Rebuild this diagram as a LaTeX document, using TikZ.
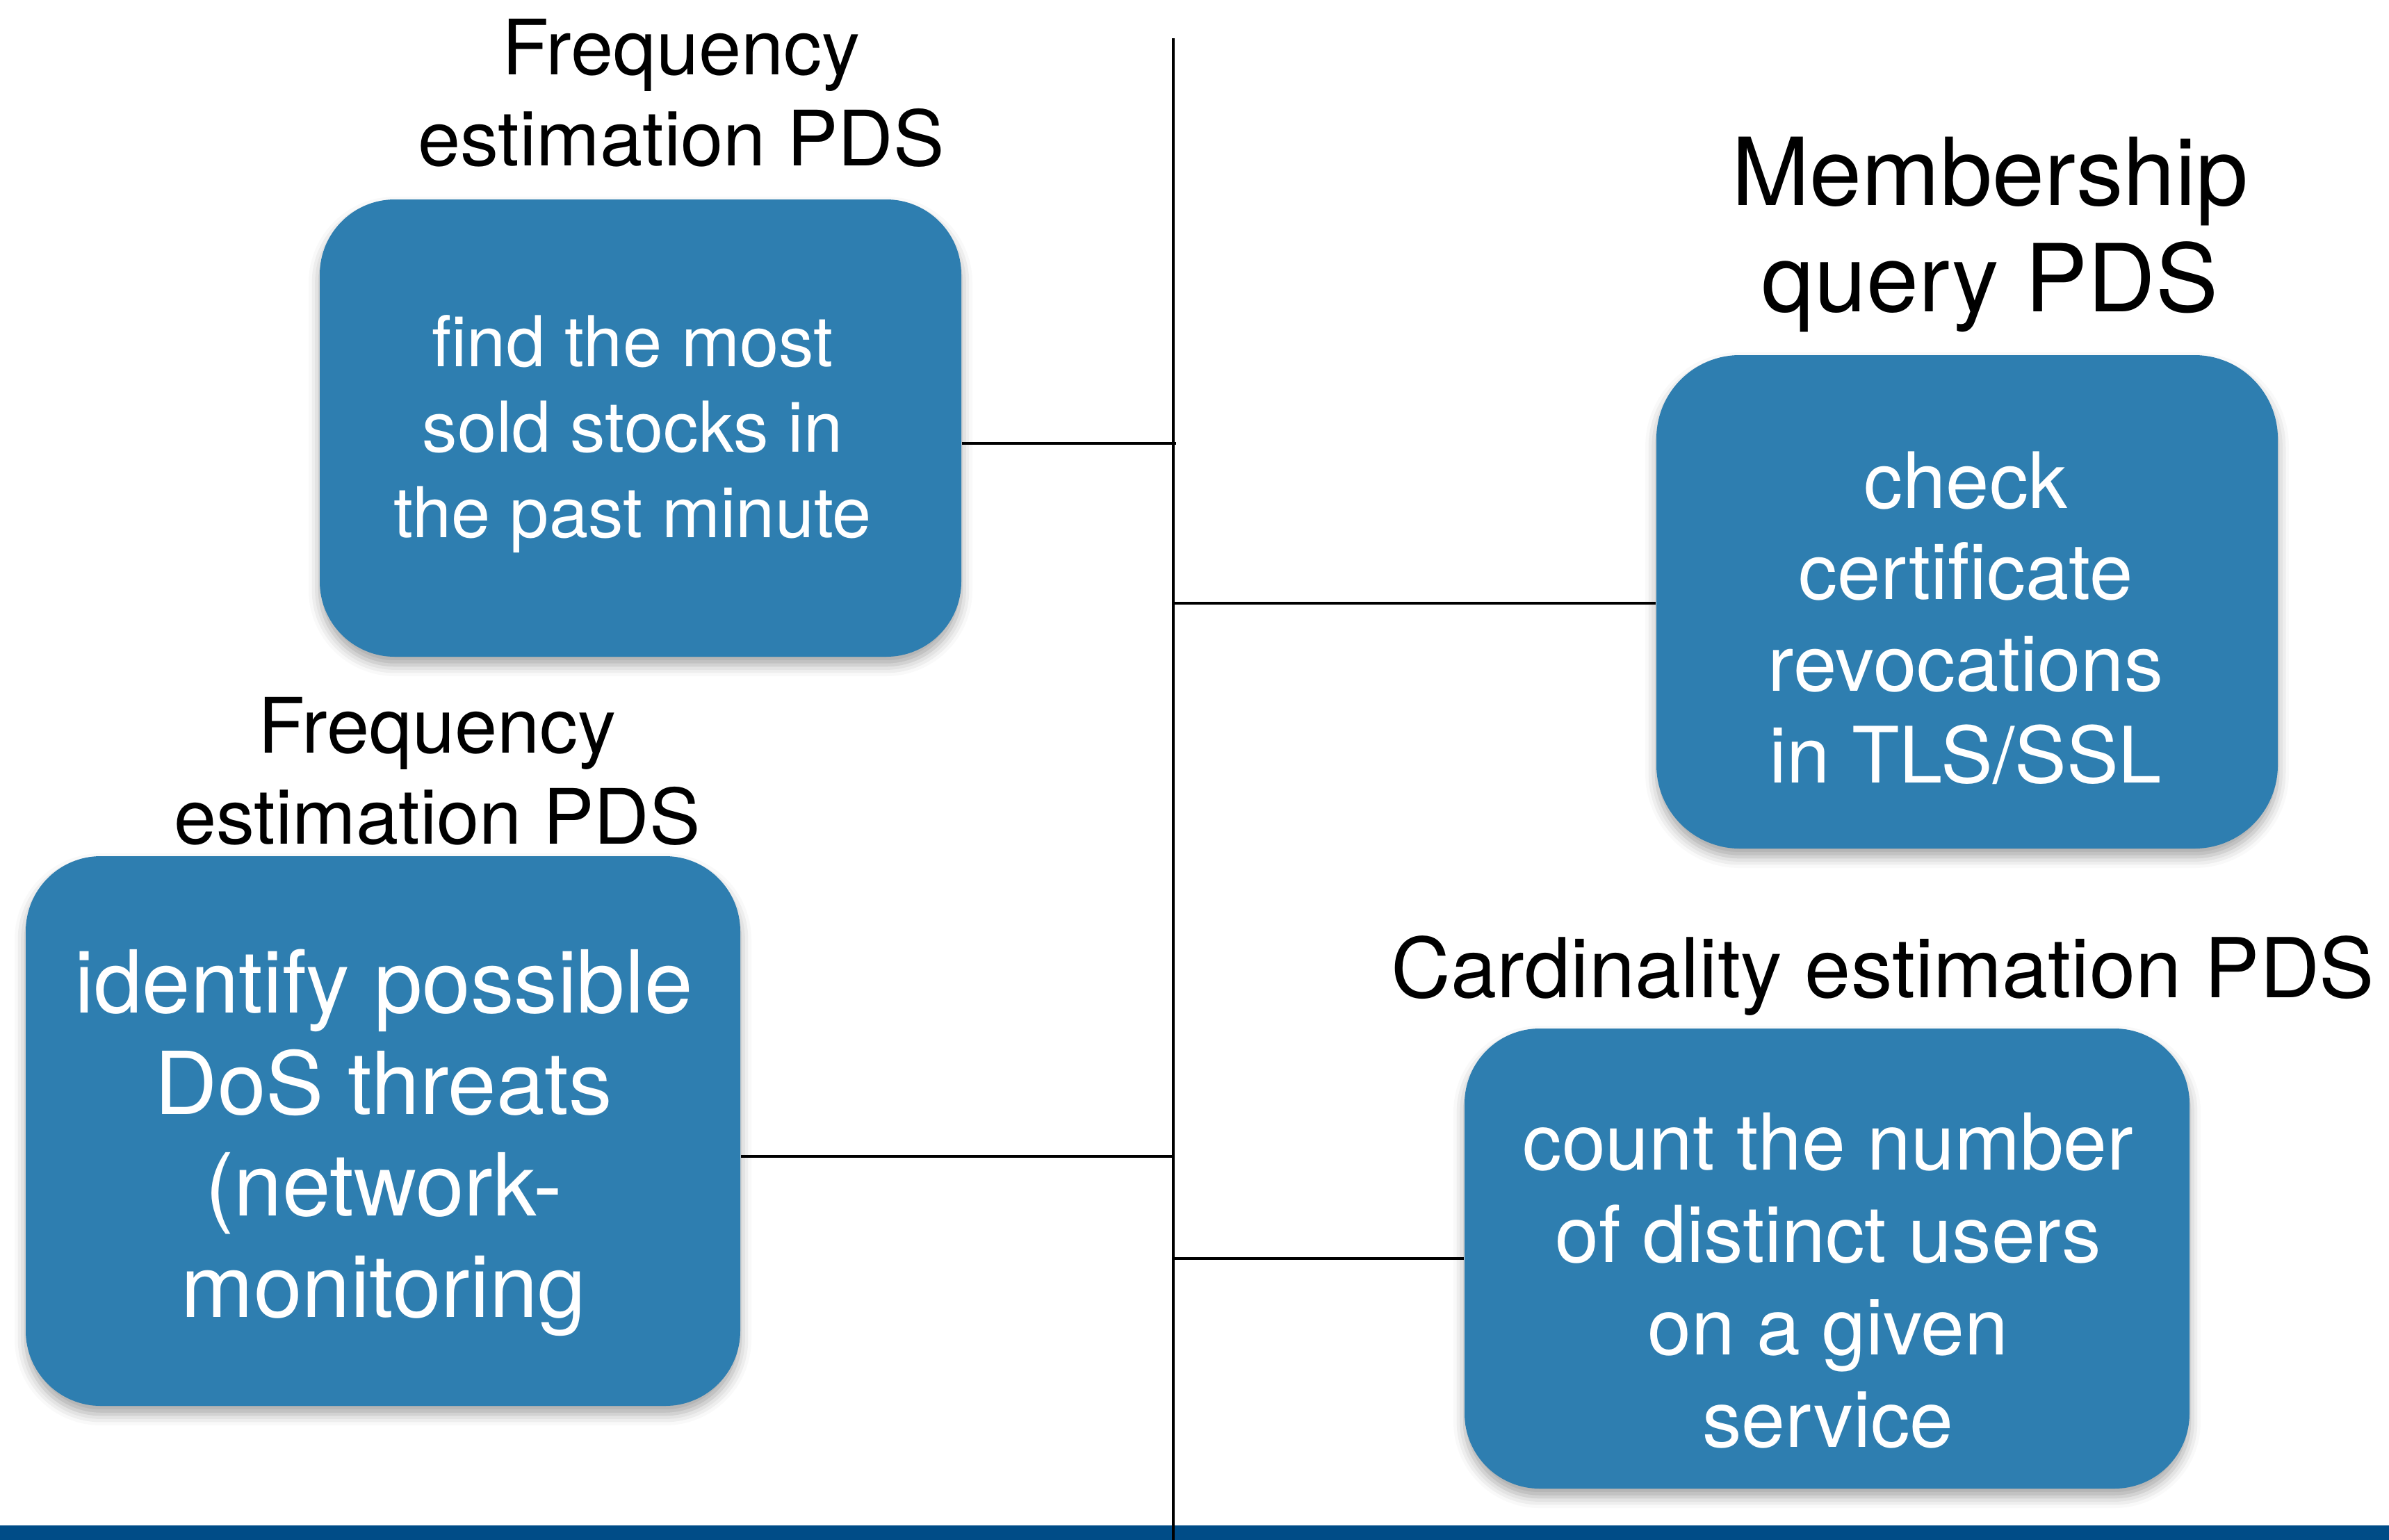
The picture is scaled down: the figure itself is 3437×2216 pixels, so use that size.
\documentclass[tikz,border=0pt]{standalone}
\usepackage{fontspec}
\setmainfont{TeX Gyre Heros}
\usetikzlibrary{shadows.blur}
\definecolor{boxblue}{HTML}{2E7EB0}
\definecolor{barblue}{HTML}{004C87}
\tikzset{
  usecase/.style={fill=boxblue, rounded corners=27pt, inner sep=0pt,
    blur shadow={shadow xshift=0pt, shadow yshift=-3pt, shadow blur radius=4pt, shadow opacity=35}},
  boxtext/.style={text=white, align=center, inner sep=0pt},
  heading/.style={text=black, align=center, inner sep=0pt},
  link/.style={draw=black, line width=1.2pt}
}
\begin{document}
\begin{tikzpicture}[x=0.25pt, y=-0.25pt]
\useasboundingbox (0,0) rectangle (3437,2216);
% footer bar
\fill[barblue] (0,2195) rectangle (3437,2216);
% central spine
\coordinate (top) at (1688,55);
\coordinate (bottom) at (1688,2216);
\draw[link] (top) -- (bottom);

% use case boxes
\node[usecase, minimum width=230.75pt, minimum height=164.5pt] (b1) at (921.5,616) {};
\node[usecase, minimum width=257pt, minimum height=197.75pt] (b2) at (551,1627.5) {};
\node[usecase, minimum width=223.5pt, minimum height=177.5pt, rounded corners=30pt] (b3) at (2830,866) {};
\node[usecase, minimum width=260.75pt, minimum height=165.5pt] (b4) at (2628.5,1811) {};

% box texts
\node[boxtext, font=\fontsize{25.25}{30.75}\selectfont] (t1) at (910,625)
  {find the most\\sold stocks in\\the past minute};
\node[boxtext, font=\fontsize{31.25}{36.5}\selectfont] (t2) at (552,1644)
  {identify possible\\DoS threats\\(network-\\monitoring};
\node[boxtext, font=\fontsize{28}{32.9}\selectfont] (t3) at (2828,889)
  {check\\certificate\\revocations\\in TLS/SSL};
\node[boxtext, font=\fontsize{28.25}{33.25}\selectfont] (t4) at (2630,1843)
  {count the number\\of distinct users\\on a given\\service};

% headings
\node[heading, font=\fontsize{27.5}{32.75}\selectfont] (h1) at (980,134)
  {Frequency\\estimation PDS};
\node[heading, font=\fontsize{27.5}{32.75}\selectfont] (h2) at (629,1110)
  {Frequency\\estimation PDS};
\node[heading, font=\fontsize{33.75}{38.25}\selectfont] (h3) at (2863,338)
  {Membership\\query PDS};
\node[heading, font=\fontsize{29.75}{35}\selectfont] (h4) at (2709,1404)
  {Cardinality estimation PDS};

% branches from the spine
\coordinate (s1) at (1692,638);
\coordinate (s2) at (1688,1664);
\coordinate (s3) at (1688,868);
\coordinate (s4) at (1688,1811);
\draw[link] (b1.east |- s1) -- (s1);
\draw[link] (b2.east |- s2) -- (s2);
\draw[link] (s3) -- (b3.west |- s3);
\draw[link] (s4) -- (b4.west |- s4);
\end{tikzpicture}
\end{document}
